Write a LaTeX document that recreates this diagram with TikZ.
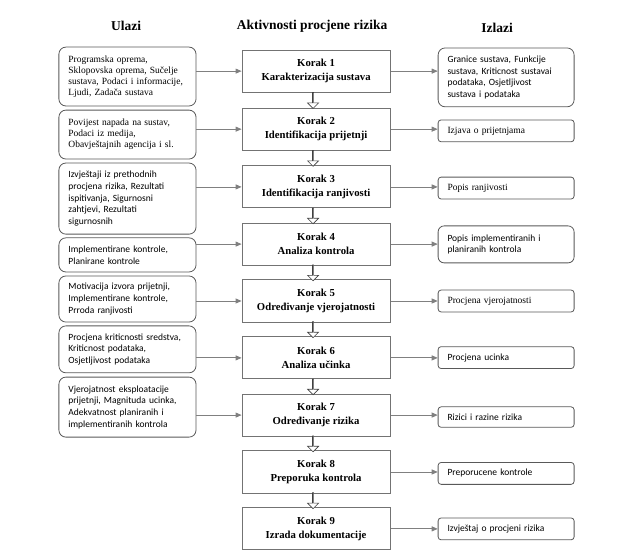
\documentclass[tikz,border=0pt]{standalone}
\usepackage{fontspec}
\setmainfont{Liberation Serif}
\newfontfamily\calibri{Carlito}
\usepackage{tikz}
\usetikzlibrary{positioning, arrows.meta, shapes.arrows, calc}

\begin{document}
\begin{tikzpicture}[
	korak/.style={draw=black!55, line width=1pt, rectangle, minimum height=1.48cm, 
	minimum width=5.2cm, text centered, align=center, font=\bfseries\fontsize{10.7}{14}\selectfont},
	ulaz/.style={draw=black!65, line width=0.8pt, rectangle, rounded corners=7pt, 
	minimum width=4.82cm, text width=4.15cm, inner xsep=0.33cm, align=left, 
	font=\fontsize{9.5}{11}\selectfont},
	izlaz/.style={ulaz, minimum width=4.78cm, text width=4.12cm},
	mali/.style={rounded corners=3pt, minimum height=0.77cm},
	sf/.style={font=\calibri\fontsize{9.5}{11.7}\selectfont},
	strelica/.style={draw=black!50, line width=0.8pt, -{Triangle[length=6pt, width=5pt]}},
	dolje/.style={draw=black!75, line width=0.6pt, fill=white, single arrow, 
	shape border rotate=270, minimum height=0.56cm, minimum width=11pt, 
	single arrow head extend=2.5pt, inner sep=0pt, xshift=-3pt}
	]
		\useasboundingbox (0,0) rectangle (22.25,-19.51);
		
		% naslovi
		\node (Naslov1) at (4.43,-0.91) [font=\bfseries\fontsize{13.5}{16}\selectfont]{Ulazi};
		\node (Naslov2) at (10.97,-0.91) [font=\bfseries\fontsize{13.5}{16}\selectfont]{Aktivnosti procjene rizika};
		\node (Naslov3) at (17.47,-0.98) [font=\bfseries\fontsize{13.5}{16}\selectfont]{Izlazi};
		
		% aktivnosti
		\node (Korak1) at (11.11,-2.50) [korak]{Korak 1\\Karakterizacija sustava};
		\node (Korak2) at (11.11,-4.54) [korak]{Korak 2\\Identifikacija prijetnji};
		\node (Korak3) at (11.11,-6.57) [korak]{Korak 3\\Identifikacija ranjivosti};
		\node (Korak4) at (11.11,-8.58) [korak]{Korak 4\\Analiza kontrola};
		\node (Korak5) at (11.11,-10.58) [korak]{Korak 5\\Određivanje vjerojatnosti};
		\node (Korak6) at (11.11,-12.58) [korak]{Korak 6\\Analiza učinka};
		\node (Korak7) at (11.11,-14.59) [korak]{Korak 7\\Određivanje rizika};
		\node (Korak8) at (11.11,-16.59) [korak]{Korak 8\\Preporuka kontrola};
		\node (Korak9) at (11.11,-18.59) [korak]{Korak 9\\Izrada dokumentacije};
		
		% ulazi
		\node (Ulaz1) at (4.48,-2.69) [ulaz, minimum height=2.07cm]{Programska oprema,\\
		Sklopovska oprema, Sučelje\\sustava, Podaci i informacije,\\Ljudi, Zadača sustava};
		\node (Ulaz2) at (4.48,-4.73) [ulaz, minimum height=1.72cm]{Povijest napada na sustav,\\
		Podaci iz medija,\\Obavještajnih agencija i sl.};
		\node (Ulaz3) at (4.48,-6.98) [ulaz, sf, minimum height=2.50cm]{Izvještaji iz prethodnih\\
		procjena rizika, Rezultati\\ispitivanja, Sigurnosni\\zahtjevi, Rezultati\\sigurnosnih};
		\node (Ulaz4) at (4.48,-8.96) [ulaz, sf, minimum height=1.20cm]{Implementirane kontrole,\\
		Planirane kontrole};
		\node (Ulaz5) at (4.48,-10.51) [ulaz, sf, minimum height=1.62cm]{Motivacija izvora prijetnji,\\
		Implementirane kontrole,\\Prroda ranjivosti};
		\node (Ulaz6) at (4.48,-12.28) [ulaz, sf, minimum height=1.65cm]{Procjena kriticnosti sredstva,\\
		Kriticnost podataka,\\Osjetljivost podataka};
		\node (Ulaz7) at (4.48,-14.31) [ulaz, sf, minimum height=2.11cm]{Vjerojatnost eksploatacije\\
		prijetnji, Magnituda ucinka,\\Adekvatnost planiranih i\\implementiranih kontrola};
		
		% izlazi
		\node (Izlaz1) at (17.79,-2.72) [izlaz, sf, minimum height=2.07cm]{Granice sustava, Funkcije\\
		sustava, Kriticnost sustavai\\podataka, Osjetljivost\\sustava i podataka};
		\node (Izlaz2) at (17.79,-4.60) [izlaz, mali]{Izjava o prijetnjama};
		\node (Izlaz3) at (17.79,-6.61) [izlaz, mali]{Popis ranjivosti};
		\node (Izlaz4) at (17.79,-8.59) [izlaz, sf, rounded corners=6pt, minimum height=1.30cm]{Popis implementiranih i\\
		planiranih kontrola};
		\node (Izlaz5) at (17.79,-10.58) [izlaz, mali]{Procjena vjerojatnosti};
		\node (Izlaz6) at (17.79,-12.57) [izlaz, sf, mali]{Procjena ucinka};
		\node (Izlaz7) at (17.79,-14.66) [izlaz, sf, mali, minimum height=0.72cm]{Rizici i razine rizika};
		\node (Izlaz8) at (17.79,-16.64) [izlaz, sf, mali]{Preporucene kontrole};
		\node (Izlaz9) at (17.79,-18.59) [izlaz, sf, mali]{Izvještaj o procjeni rizika};
		
		% strelice prema dolje
		\node (Dolje1) at ($(Korak1.south)!0.5!(Korak2.north)$) [dolje]{};
		\node (Dolje2) at ($(Korak2.south)!0.5!(Korak3.north)$) [dolje]{};
		\node (Dolje3) at ($(Korak3.south)!0.5!(Korak4.north)$) [dolje]{};
		\node (Dolje4) at ($(Korak4.south)!0.5!(Korak5.north)$) [dolje]{};
		\node (Dolje5) at ($(Korak5.south)!0.5!(Korak6.north)$) [dolje]{};
		\node (Dolje6) at ($(Korak6.south)!0.5!(Korak7.north)$) [dolje]{};
		\node (Dolje7) at ($(Korak7.south)!0.5!(Korak8.north)$) [dolje]{};
		\node (Dolje8) at ($(Korak8.south)!0.5!(Korak9.north)$) [dolje]{};
		
		% strelice ulaz -> korak
		\draw[strelica] (Ulaz1.east |- Korak1.west) -- (Korak1.west);
		\draw[strelica] (Ulaz2.east |- Korak2.west) -- (Korak2.west);
		\draw[strelica] (Ulaz3.east |- Korak3.west) -- (Korak3.west);
		\draw[strelica] (Ulaz4.east |- Korak4.west) -- (Korak4.west);
		\draw[strelica] (Ulaz5.east |- Korak5.west) -- (Korak5.west);
		\draw[strelica] (Ulaz6.east |- Korak6.west) -- (Korak6.west);
		\draw[strelica] (Ulaz7.east |- Korak7.west) -- (Korak7.west);
		
		% strelice korak -> izlaz
		\draw[strelica] (Korak1.east) -- (Korak1.east -| Izlaz1.west);
		\draw[strelica] (Korak2.east) -- (Korak2.east -| Izlaz2.west);
		\draw[strelica] (Korak3.east) -- (Korak3.east -| Izlaz3.west);
		\draw[strelica] (Korak4.east) -- (Korak4.east -| Izlaz4.west);
		\draw[strelica] (Korak5.east) -- (Korak5.east -| Izlaz5.west);
		\draw[strelica] (Korak6.east) -- (Korak6.east -| Izlaz6.west);
		\draw[strelica] (Korak7.east) -- (Korak7.east -| Izlaz7.west);
		\draw[strelica] (Korak8.east) -- (Korak8.east -| Izlaz8.west);
		\draw[strelica] (Korak9.east) -- (Korak9.east -| Izlaz9.west);
\end{tikzpicture}
\end{document}
